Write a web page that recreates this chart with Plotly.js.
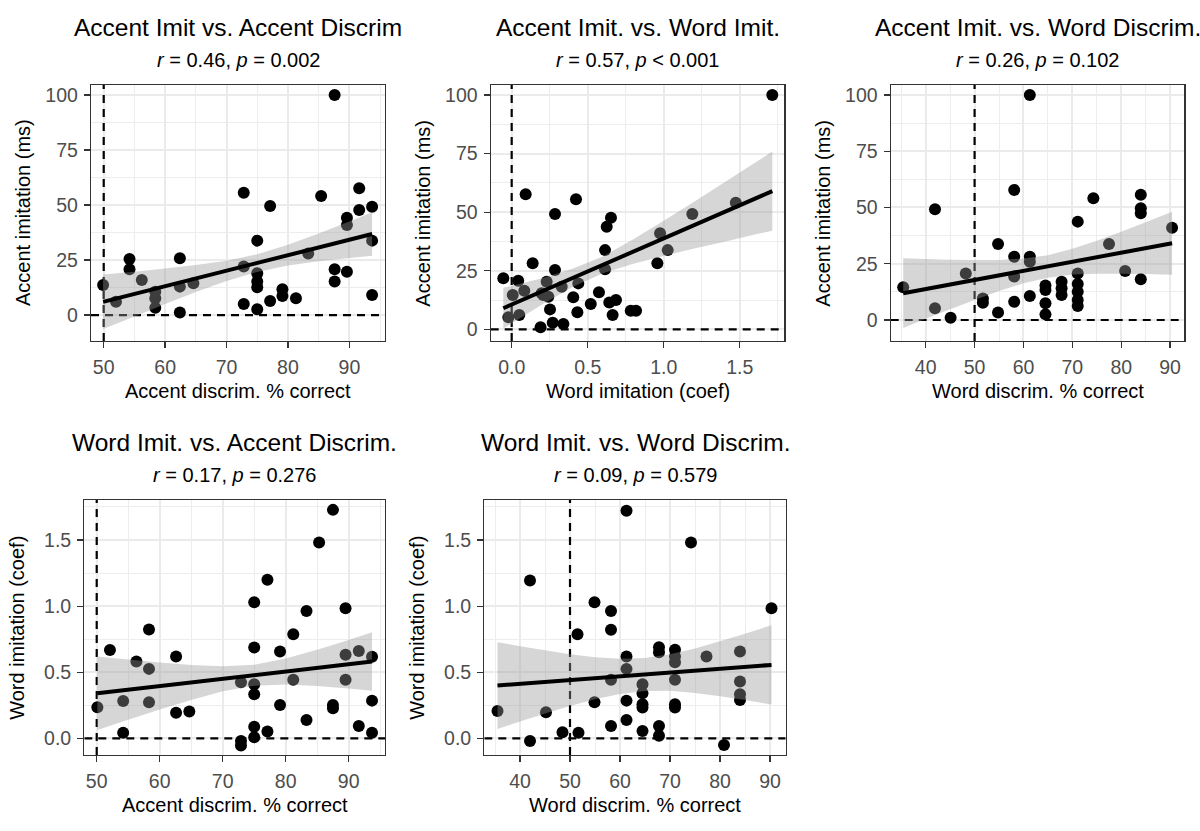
<!DOCTYPE html>
<html><head><meta charset="utf-8">
<script src="https://cdn.plot.ly/plotly-3.0.1.min.js"></script>
<style>html,body{margin:0;padding:0;background:#fff}#chart{width:1200px;height:831px}</style>
</head><body><div id="chart"></div>
<script>
// ---------- Panel 1: Accent imitation vs Accent discrimination ----------
const p1x = [87.6, 49.9, 52.0, 54.2, 54.2, 56.2, 58.4, 58.4, 58.4, 62.4, 62.4, 62.4, 64.6, 72.8, 72.8, 72.8, 75.0, 75.0, 75.0, 75.0, 75.0, 77.1, 77.1, 79.1, 79.1, 81.3, 83.3, 85.4, 87.6, 87.6, 89.6, 89.6, 89.6, 91.6, 91.6, 93.7, 93.7, 93.7];
const p1y = [100, 13.6, 6.0, 25.5, 20.8, 15.9, 10.6, 7.6, 3.3, 25.8, 12.9, 1.1, 14.4, 55.6, 22.0, 5.0, 33.8, 19.0, 15.2, 12.6, 2.6, 49.5, 6.4, 11.7, 8.6, 7.6, 28.0, 54.1, 20.8, 15.2, 44.2, 40.9, 19.7, 57.6, 47.7, 49.2, 33.8, 9.1];
const p1fitX = [49.9, 93.7];
const p1fitY = [6.0, 36.8];
const p1bandX = [49.9, 55, 60, 65, 70, 75, 80, 85, 90, 93.7];
const p1bandHi = [18.4, 19.7, 21.1, 22.7, 24.7, 27.6, 31.9, 37.0, 42.5, 46.7];
const p1bandLo = [-6.4, -0.7, 5.0, 10.5, 15.5, 19.6, 22.5, 24.4, 25.9, 26.9];

// ---------- Panel 2: Accent imitation vs Word imitation ----------
const p2x = [1.714, -0.055, 0.007, -0.022, 0.043, 0.05, 0.083, 0.092, 0.138, 0.19, 0.208, 0.23, 0.241, 0.252, 0.27, 0.285, 0.285, 0.329, 0.34, 0.405, 0.423, 0.432, 0.438, 0.52, 0.574, 0.614, 0.614, 0.625, 0.653, 0.642, 0.686, 0.664, 0.783, 0.818, 0.958, 0.976, 1.026, 1.188, 1.474, 0.197];
const p2y = [100, 21.8, 14.6, 5.1, 20.7, 6.1, 16.5, 57.7, 28.2, 0.85, 14.6, 20.3, 13.9, 8.5, 2.8, 49.2, 25.3, 18.2, 2.3, 13.7, 55.5, 7.3, 19.6, 10.8, 15.8, 33.8, 25.6, 43.8, 47.6, 11.4, 12.5, 6.1, 7.9, 7.9, 28.2, 41.0, 33.8, 49.2, 54.0, 15.4];
const p2fitX = [-0.055, 1.714];
const p2fitY = [9.0, 59.0];
const p2bandX = [-0.055, 0.2, 0.4, 0.6, 0.8, 1.0, 1.2, 1.4, 1.6, 1.714];
const p2bandHi = [17.7, 21.8, 25.8, 31.1, 38.4, 46.3, 54.5, 62.8, 71.1, 75.9];
const p2bandLo = [0.3, 10.6, 18.1, 23.9, 28.0, 31.3, 34.5, 37.4, 40.5, 42.1];

// ---------- Panel 3: Accent imitation vs Word discrimination ----------
const p3x = [61.3, 35.4, 41.9, 41.9, 45.1, 48.2, 51.7, 51.7, 54.8, 54.8, 58.1, 58.1, 58.1, 58.1, 61.3, 61.3, 61.3, 64.5, 64.5, 64.5, 64.5, 67.8, 67.8, 67.8, 71.1, 71.1, 71.1, 71.1, 71.1, 71.1, 74.3, 77.5, 80.8, 84.0, 84.0, 84.0, 84.0, 90.4];
const p3y = [100, 14.5, 49.2, 5.2, 1.0, 20.7, 9.6, 7.7, 33.8, 3.3, 57.8, 28.1, 19.3, 8.1, 28.1, 25.9, 10.7, 15.3, 13.3, 7.4, 2.5, 17.0, 14.1, 11.1, 43.7, 20.7, 16.0, 12.6, 8.9, 6.2, 54.1, 33.8, 21.8, 55.6, 49.6, 47.4, 18.1, 41.0];
const p3fitX = [35.4, 90.4];
const p3fitY = [11.9, 34.1];
const p3bandX = [35.4, 40, 45, 50, 55, 60, 65, 70, 75, 80, 85, 90.4];
const p3bandHi = [27.4, 27.1, 26.8, 26.6, 26.7, 27.3, 28.8, 31.6, 35.2, 39.2, 43.4, 48.1];
const p3bandLo = [-3.6, 0.5, 4.8, 8.9, 12.9, 16.3, 18.8, 20.2, 20.6, 20.6, 20.4, 20.1];

// ---------- Panel 4: Word imitation vs Accent discrimination ----------
const p4x = [87.5, 85.3, 77.1, 75.0, 83.3, 89.5, 81.2, 58.3, 52.1, 75.0, 79.1, 62.6, 56.3, 58.3, 89.5, 91.6, 93.7, 72.9, 75.0, 81.2, 89.5, 75.0, 50.1, 54.2, 58.3, 62.6, 64.7, 79.1, 87.5, 87.5, 93.7, 83.3, 54.2, 75.0, 75.0, 77.1, 91.6, 93.7, 72.9, 72.9];
const p4y = [1.728, 1.481, 1.199, 1.030, 0.964, 0.985, 0.788, 0.823, 0.669, 0.687, 0.657, 0.619, 0.581, 0.526, 0.632, 0.662, 0.617, 0.425, 0.410, 0.443, 0.443, 0.334, 0.236, 0.284, 0.274, 0.195, 0.203, 0.253, 0.253, 0.228, 0.286, 0.140, 0.044, 0.089, 0.009, 0.052, 0.095, 0.044, -0.019, -0.054];
const p4fitX = [50.1, 93.7];
const p4fitY = [0.342, 0.581];
const p4bandX = [50.1, 55, 60, 65, 70, 75, 80, 85, 90, 93.7];
const p4bandHi = [0.620, 0.597, 0.574, 0.555, 0.546, 0.558, 0.605, 0.670, 0.745, 0.802];
const p4bandLo = [0.064, 0.141, 0.218, 0.291, 0.356, 0.398, 0.408, 0.396, 0.377, 0.360];

// ---------- Panel 5: Word imitation vs Word discrimination ----------
const p5x = [61.3, 74.2, 42.0, 54.9, 58.2, 58.2, 90.3, 51.5, 61.3, 61.3, 67.8, 67.8, 71.0, 71.0, 71.0, 77.3, 84.0, 58.2, 64.5, 64.5, 71.0, 84.0, 84.0, 84.0, 35.5, 45.2, 54.9, 61.3, 64.5, 64.5, 71.0, 71.0, 61.3, 58.2, 67.8, 67.8, 64.5, 48.5, 51.7, 42.0, 80.8];
const p5y = [1.721, 1.481, 1.194, 1.030, 0.964, 0.821, 0.985, 0.788, 0.619, 0.526, 0.690, 0.652, 0.670, 0.619, 0.576, 0.619, 0.657, 0.443, 0.410, 0.342, 0.443, 0.430, 0.334, 0.291, 0.208, 0.198, 0.274, 0.286, 0.259, 0.234, 0.259, 0.234, 0.140, 0.095, 0.095, 0.021, 0.057, 0.047, 0.044, -0.019, -0.049];
const p5fitX = [35.5, 90.3];
const p5fitY = [0.400, 0.556];
const p5bandX = [35.5, 40, 45, 50, 55, 60, 65, 70, 75, 80, 85, 90.3];
const p5bandHi = [0.728, 0.698, 0.666, 0.637, 0.614, 0.603, 0.609, 0.636, 0.680, 0.734, 0.791, 0.856];
const p5bandLo = [0.072, 0.128, 0.188, 0.245, 0.296, 0.337, 0.359, 0.360, 0.344, 0.320, 0.291, 0.256];

// Reference (chance / zero) levels per panel
const refX = [50, 0, 50, 50, 50];
const refY = [0, 0, 0, 0, 0];

// Text
const titles = ["Accent Imit vs. Accent Discrim", "Accent Imit. vs. Word Imit.", "Accent Imit. vs. Word Discrim.", "Word Imit. vs. Accent Discrim.", "Word Imit. vs. Word Discrim."];
const subtitles = ["<i>r</i> = 0.46, <i>p</i> = 0.002", "<i>r</i> = 0.57, <i>p</i> &lt; 0.001", "<i>r</i> = 0.26, <i>p</i> = 0.102", "<i>r</i> = 0.17, <i>p</i> = 0.276", "<i>r</i> = 0.09, <i>p</i> = 0.579"];
const xTitles = ["Accent discrim. % correct", "Word imitation (coef)", "Word discrim. % correct", "Accent discrim. % correct", "Word discrim. % correct"];
const yTitles = ["Accent imitation (ms)", "Accent imitation (ms)", "Accent imitation (ms)", "Word imitation (coef)", "Word imitation (coef)"];

// ---------- Layout geometry (pixels) ----------
const W = 1200, H = 831;
const frames = [
  {l: 91, r: 385, t: 85, b: 341, xr: [47.93, 95.8], yr: [-11.8, 104.5], xd: 10, xm: 5, yd: 25, ym: 12.5, xf: '', yf: ''},
  {l: 490.7, r: 784.3, t: 85, b: 341, xr: [-0.138, 1.793], yr: [-5.0, 104.3], xd: 0.5, xm: 0.25, yd: 25, ym: 12.5, xf: '.1f', yf: ''},
  {l: 890.7, r: 1184.3, t: 85, b: 341, xr: [32.84, 92.9], yr: [-9.33, 104.4], xd: 10, xm: 5, yd: 25, ym: 12.5, xf: '', yf: ''},
  {l: 84.3, r: 385, t: 500, b: 755, xr: [48.03, 95.76], yr: [-0.125, 1.8026], xd: 10, xm: 5, yd: 0.5, ym: 0.25, xf: '', yf: '.1f'},
  {l: 484.3, r: 785.7, t: 500, b: 755, xr: [32.86, 93.14], yr: [-0.125, 1.8026], xd: 10, xm: 5, yd: 0.5, ym: 0.25, xf: '', yf: '.1f'}
];

const FONT = 'Liberation Sans, Arial, Helvetica, sans-serif';
const panels = [
  [p1x, p1y, p1fitX, p1fitY, p1bandX, p1bandHi, p1bandLo],
  [p2x, p2y, p2fitX, p2fitY, p2bandX, p2bandHi, p2bandLo],
  [p3x, p3y, p3fitX, p3fitY, p3bandX, p3bandHi, p3bandLo],
  [p4x, p4y, p4fitX, p4fitY, p4bandX, p4bandHi, p4bandLo],
  [p5x, p5y, p5fitX, p5fitY, p5bandX, p5bandHi, p5bandLo]
];

const data = [];
const layout = {
  width: W, height: H, margin: {l: 0, r: 0, t: 0, b: 0},
  paper_bgcolor: '#ffffff', plot_bgcolor: '#ffffff',
  showlegend: false, font: {family: FONT, color: '#000000'},
  annotations: []
};

function axis(domain, range, dtick, minor, fmt, anchor) {
  return {
    domain: domain, range: range, dtick: dtick, tick0: 0, anchor: anchor,
    showline: true, mirror: true, linecolor: '#333333', linewidth: 1.2,
    ticks: 'outside', ticklen: 6, tickwidth: 1.3, tickcolor: '#333333',
    ticklabelstandoff: 2,
    showgrid: true, gridcolor: '#ebebeb', gridwidth: 2, zeroline: false,
    minor: {dtick: minor, tick0: 0, showgrid: true, gridcolor: '#ededed', gridwidth: 1, ticks: ''},
    tickfont: {family: FONT, size: 19.5, color: '#4d4d4d'},
    tickformat: fmt, fixedrange: true, layer: 'below traces'
  };
}

const dashStyle = {color: '#000000', width: 2.2, dash: '8px,6px'};

panels.forEach(function (p, i) {
  const n = i + 1;
  const xa = 'x' + (n === 1 ? '' : n), ya = 'y' + (n === 1 ? '' : n);
  const f = frames[i];
  layout['xaxis' + (n === 1 ? '' : n)] = axis([f.l / W, f.r / W], f.xr, f.xd, f.xm, f.xf, ya);
  layout['yaxis' + (n === 1 ? '' : n)] = axis([1 - f.b / H, 1 - f.t / H], f.yr, f.yd, f.ym, f.yf, xa);

  // reference dashed lines (vertical at chance level, horizontal at zero), spanning the axis range
  data.push({type: 'scatter', mode: 'lines', x: [refX[i], refX[i]], y: f.yr, xaxis: xa, yaxis: ya,
    line: dashStyle, hoverinfo: 'skip'});
  data.push({type: 'scatter', mode: 'lines', x: f.xr, y: [refY[i], refY[i]], xaxis: xa, yaxis: ya,
    line: dashStyle, hoverinfo: 'skip'});
  // points
  data.push({type: 'scatter', mode: 'markers', x: p[0], y: p[1], xaxis: xa, yaxis: ya,
    marker: {color: '#000000', size: 12, line: {width: 0}}, hoverinfo: 'skip'});
  // confidence band
  data.push({type: 'scatter', mode: 'none', xaxis: xa, yaxis: ya,
    x: p[4].concat(p[4].slice().reverse()), y: p[5].concat(p[6].slice().reverse()),
    fill: 'toself', fillcolor: 'rgba(153,153,153,0.4)', hoverinfo: 'skip'});
  // fit line
  data.push({type: 'scatter', mode: 'lines', x: p[2], y: p[3], xaxis: xa, yaxis: ya,
    line: {color: '#000000', width: 4}, hoverinfo: 'skip'});

  const cx = (f.l + f.r) / 2 / W;
  const cy = 1 - (f.t + f.b) / 2 / H;
  layout.annotations.push({text: titles[i], xref: 'paper', yref: 'paper', x: cx, y: 1 - (f.t - 58) / H,
    xanchor: 'center', yanchor: 'middle', showarrow: false, font: {family: FONT, size: 24.5, color: '#000000'}});
  layout.annotations.push({text: subtitles[i], xref: 'paper', yref: 'paper', x: cx, y: 1 - (f.t - 25) / H,
    xanchor: 'center', yanchor: 'middle', showarrow: false, font: {family: FONT, size: 20, color: '#000000'}});
  layout.annotations.push({text: xTitles[i], xref: 'paper', yref: 'paper', x: cx, y: 1 - (f.b + 50) / H,
    xanchor: 'center', yanchor: 'middle', showarrow: false, font: {family: FONT, size: 20, color: '#000000'}});
  layout.annotations.push({text: yTitles[i], xref: 'paper', yref: 'paper', x: (f.l - 68) / W, y: cy,
    xanchor: 'center', yanchor: 'middle', textangle: -90, showarrow: false, font: {family: FONT, size: 20, color: '#000000'}});
});

Plotly.newPlot('chart', data, layout, {displayModeBar: false, staticPlot: true});
</script>
</body></html>
